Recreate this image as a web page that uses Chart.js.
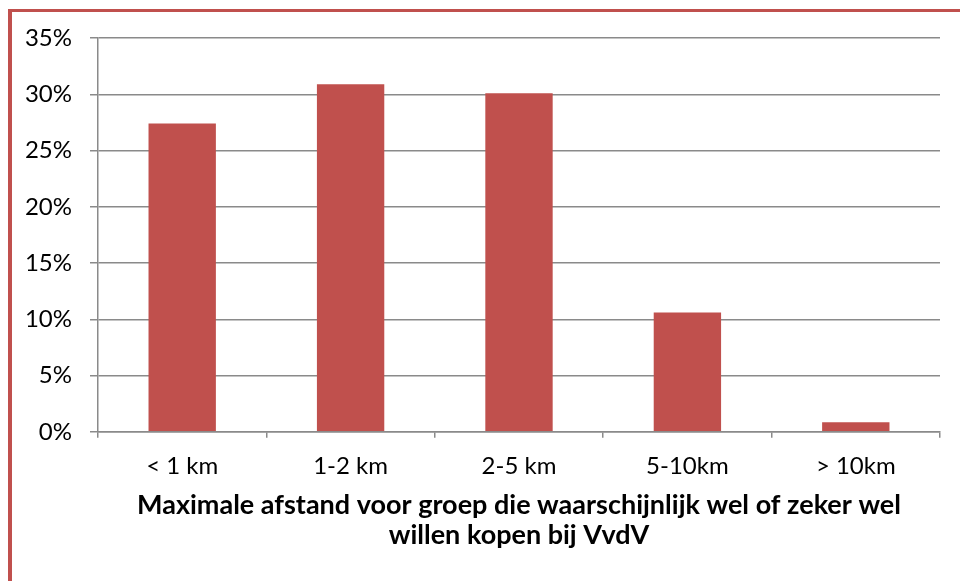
<!DOCTYPE html>
<html>
<head>
<meta charset="utf-8">
<script src="https://cdn.jsdelivr.net/npm/chart.js@4.4.1/dist/chart.umd.min.js"></script>
<style>
    html, body { margin: 0; padding: 0; background: #fff; }
    #wrap { position: relative; width: 960px; height: 581px; overflow: hidden; }
    #frame {
        position: absolute; left: 8px; top: 9px; right: -10px; bottom: -10px;
        border-top: 3px solid #C0504D; border-left: 4px solid #C0504D;
    }
    #afstandchart { position: absolute; left: 0; top: 0; }
</style>
</head>
<body>
<div id="wrap">
    <div id="frame"></div>
    <canvas id="afstandchart" width="960" height="581"></canvas>
</div>
<script>
var afstandLabels = ["< 1 km", "1-2 km", "2-5 km", "5-10km", "> 10km"];
var afstandData = [27.4, 30.9, 30.1, 10.6, 0.85];
var axisTitle = ["Maximale afstand voor groep die waarschijnlijk wel of zeker wel", "willen kopen bij VvdV"];

var afstandchart = null;

function createAfstandChart(labels, data) {
    const chartdata = {
        labels: labels,
        datasets: [{
            label: " Afstand ",
            backgroundColor: "#C0504D",
            data: data,
            barPercentage: 0.4,
            categoryPercentage: 1.0,
        }, ],
    };
    const config = {
        type: "bar",
        data: chartdata,
        options: {
            responsive: false,
            animation: false,
            layout: {
                padding: { left: 0, right: 20, top: 38, bottom: 31 },
            },
            scales: {
                x: {
                    offset: true,
                    grid: {
                        display: true,
                        offset: true,
                        drawOnChartArea: false,
                        tickLength: 6,
                        color: "#8a8a8a",
                        lineWidth: 1.5,
                    },
                    border: { color: "#8a8a8a", width: 1.5 },
                    ticks: {
                        color: "#000",
                        padding: 14,
                        font: { family: "Lato", size: 24 },
                    },
                    title: {
                        display: true,
                        text: axisTitle,
                        color: "#000",
                        padding: { top: -4, bottom: 0 },
                        font: { family: "Lato", size: 27, weight: "bold", lineHeight: 1.1 },
                    },
                },
                y: {
                    min: 0,
                    max: 35,
                    afterFit: function (scale) {
                        scale.width = 98;
                    },
                    grid: {
                        color: "#8a8a8a",
                        lineWidth: 1.5,
                        tickLength: 8,
                    },
                    border: { color: "#8a8a8a", width: 1.5 },
                    ticks: {
                        stepSize: 5,
                        color: "#000",
                        padding: 18,
                        font: { family: "Lato", size: 24 },
                        callback: function (value, index, values) {
                            return value + "%";
                        },
                    },
                },
            },
            plugins: {
                legend: { display: false },
                tooltip: { enabled: false },
            },
        },
    };
    if (afstandchart != null) {
        afstandchart.destroy();
    }
    afstandchart = new Chart(document.getElementById("afstandchart"), config);
}

createAfstandChart(afstandLabels, afstandData);
</script>
</body>
</html>
